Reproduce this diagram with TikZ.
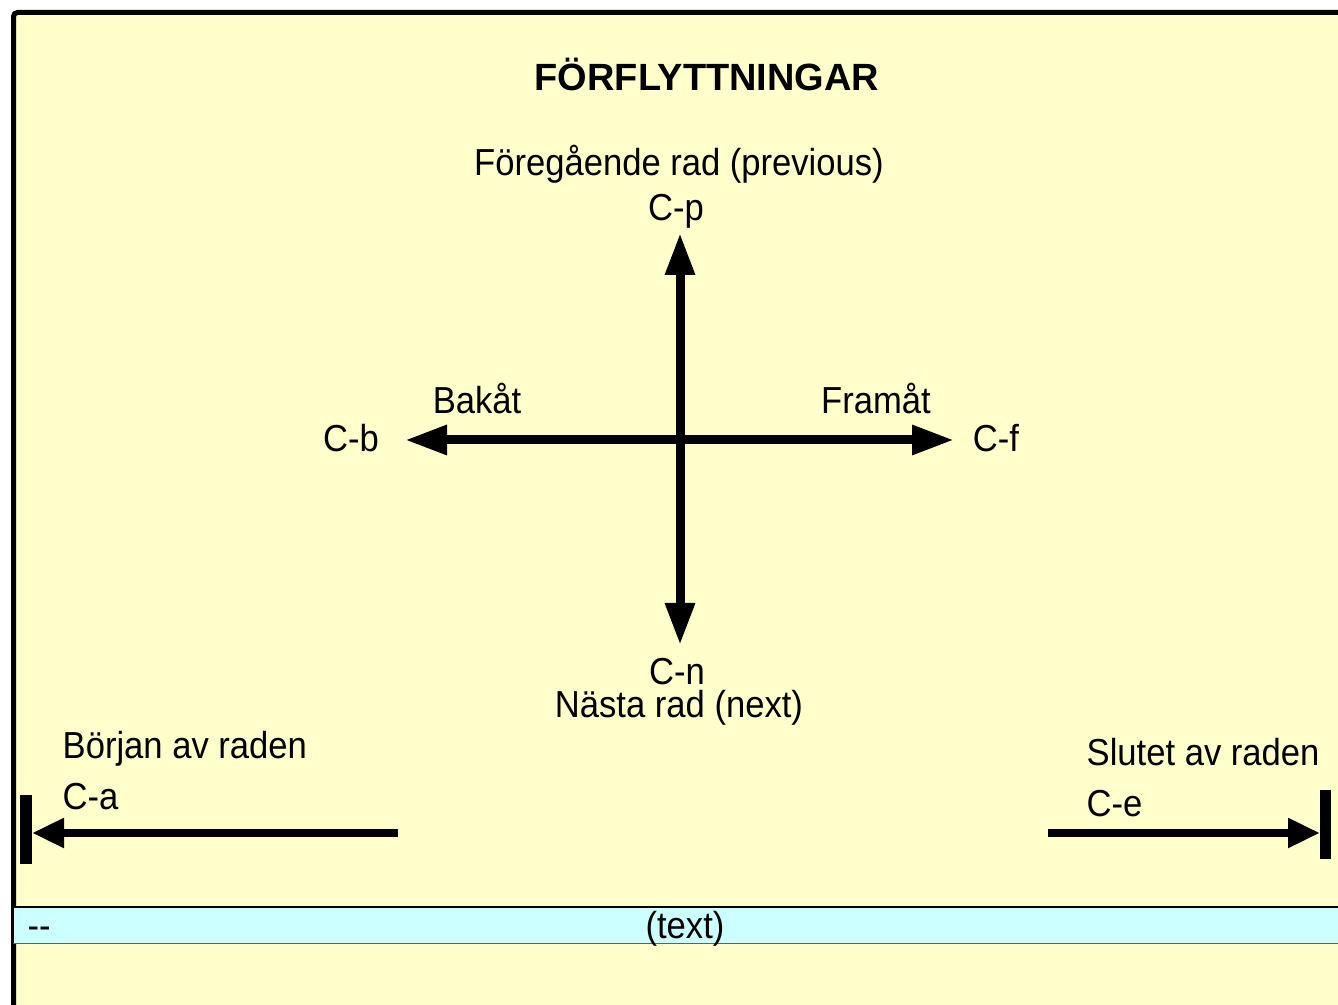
\documentclass[tikz,border=0pt]{standalone}
\usepackage{fontspec}
\setmainfont[FakeStretch=0.92]{Liberation Sans}
\newfontfamily\rubrikfont{Liberation Sans}
\definecolor{bgyellow}{RGB}{255,255,204}
\definecolor{radcyan}{RGB}{204,255,255}
\definecolor{radgrey}{RGB}{90,100,100}
\usetikzlibrary{arrows.meta}

\begin{document}
\begin{tikzpicture}[x=0.1mm, y=-0.1mm,
  every node/.style={inner sep=0pt, font=\fontsize{10.7}{12.8}\selectfont},
  lbl/.style={anchor=base},
  lblw/.style={anchor=base west},
  pil/.style={line width=0.9mm, -{Triangle[length=4.2mm, width=2.8mm]}},
  pilkort/.style={line width=0.8mm, -{Triangle[length=3.2mm, width=2.8mm]}},
  stopp/.style={line width=1.15mm}]
\clip (0,0) rectangle (1338,1005);
\fill[bgyellow] (13.5,12.5) rectangle (1345,1010);
\draw[line width=0.5mm, rounded corners=0.4mm] (13.5,1010) -- (13.5,12.5) -- (1345,12.5);

\node[lbl, font=\rubrikfont\bfseries\fontsize{10.8}{12.8}\selectfont] (rubrik) at (707,91) {FÖRFLYTTNINGAR};
\node[lbl] (prevtxt) at (679,176) {Föregående rad (previous)};
\node[lbl] (cp) at (676,221) {C-p};
\node[lbl] (cb) at (351,452) {C-b};
\node[lbl] (bakat) at (477,414) {Bakåt};
\node[lbl] (framat) at (876,414) {Framåt};
\node[lbl] (cf) at (996,452) {C-f};
\node[lbl] (cn) at (677,685) {C-n};
\node[lbl] (nexttxt) at (679,718) {Nästa rad (next)};
\node[lblw] (borjan) at (62,759) {Början av raden};
\node[lblw] (ca) at (62,810) {C-a};
\node[lblw] (slutet) at (1086,766) {Slutet av raden};
\node[lblw] (ce) at (1086,817) {C-e};

\coordinate (mitt) at (680,440);
\coordinate (upp) at (680,233);
\coordinate (ner) at (680,645);
\coordinate (bak) at (405,440);
\coordinate (fram) at (954,440);
\draw[pil] (mitt) -- (upp);
\draw[pil] (mitt) -- (ner);
\draw[pil] (mitt) -- (bak);
\draw[pil] (mitt) -- (fram);

\coordinate (aStart) at (398,833);
\coordinate (aSlut) at (32,833);
\coordinate (aBar1) at (26,795);
\coordinate (aBar2) at (26,864);
\draw[pilkort] (aStart) -- (aSlut);
\draw[stopp] (aBar1) -- (aBar2);

\coordinate (eStart) at (1048,833);
\coordinate (eSlut) at (1320,833);
\coordinate (eBar1) at (1325.5,790);
\coordinate (eBar2) at (1325.5,859);
\draw[pilkort] (eStart) -- (eSlut);
\draw[stopp] (eBar1) -- (eBar2);

\node[fill=radcyan, anchor=north west, minimum width=133.5mm, minimum height=3.5mm] (rad) at (13,907) {};
\draw[line width=0.3pt] (rad.north west) -- (rad.north east);
\draw[radgrey, line width=0.4pt] (rad.south west) -- (rad.south east);
\node[lblw] (streck) at (27,939) {-{}-};
\node[lbl] (texten) at (685,939) {(text)};
\end{tikzpicture}
\end{document}
